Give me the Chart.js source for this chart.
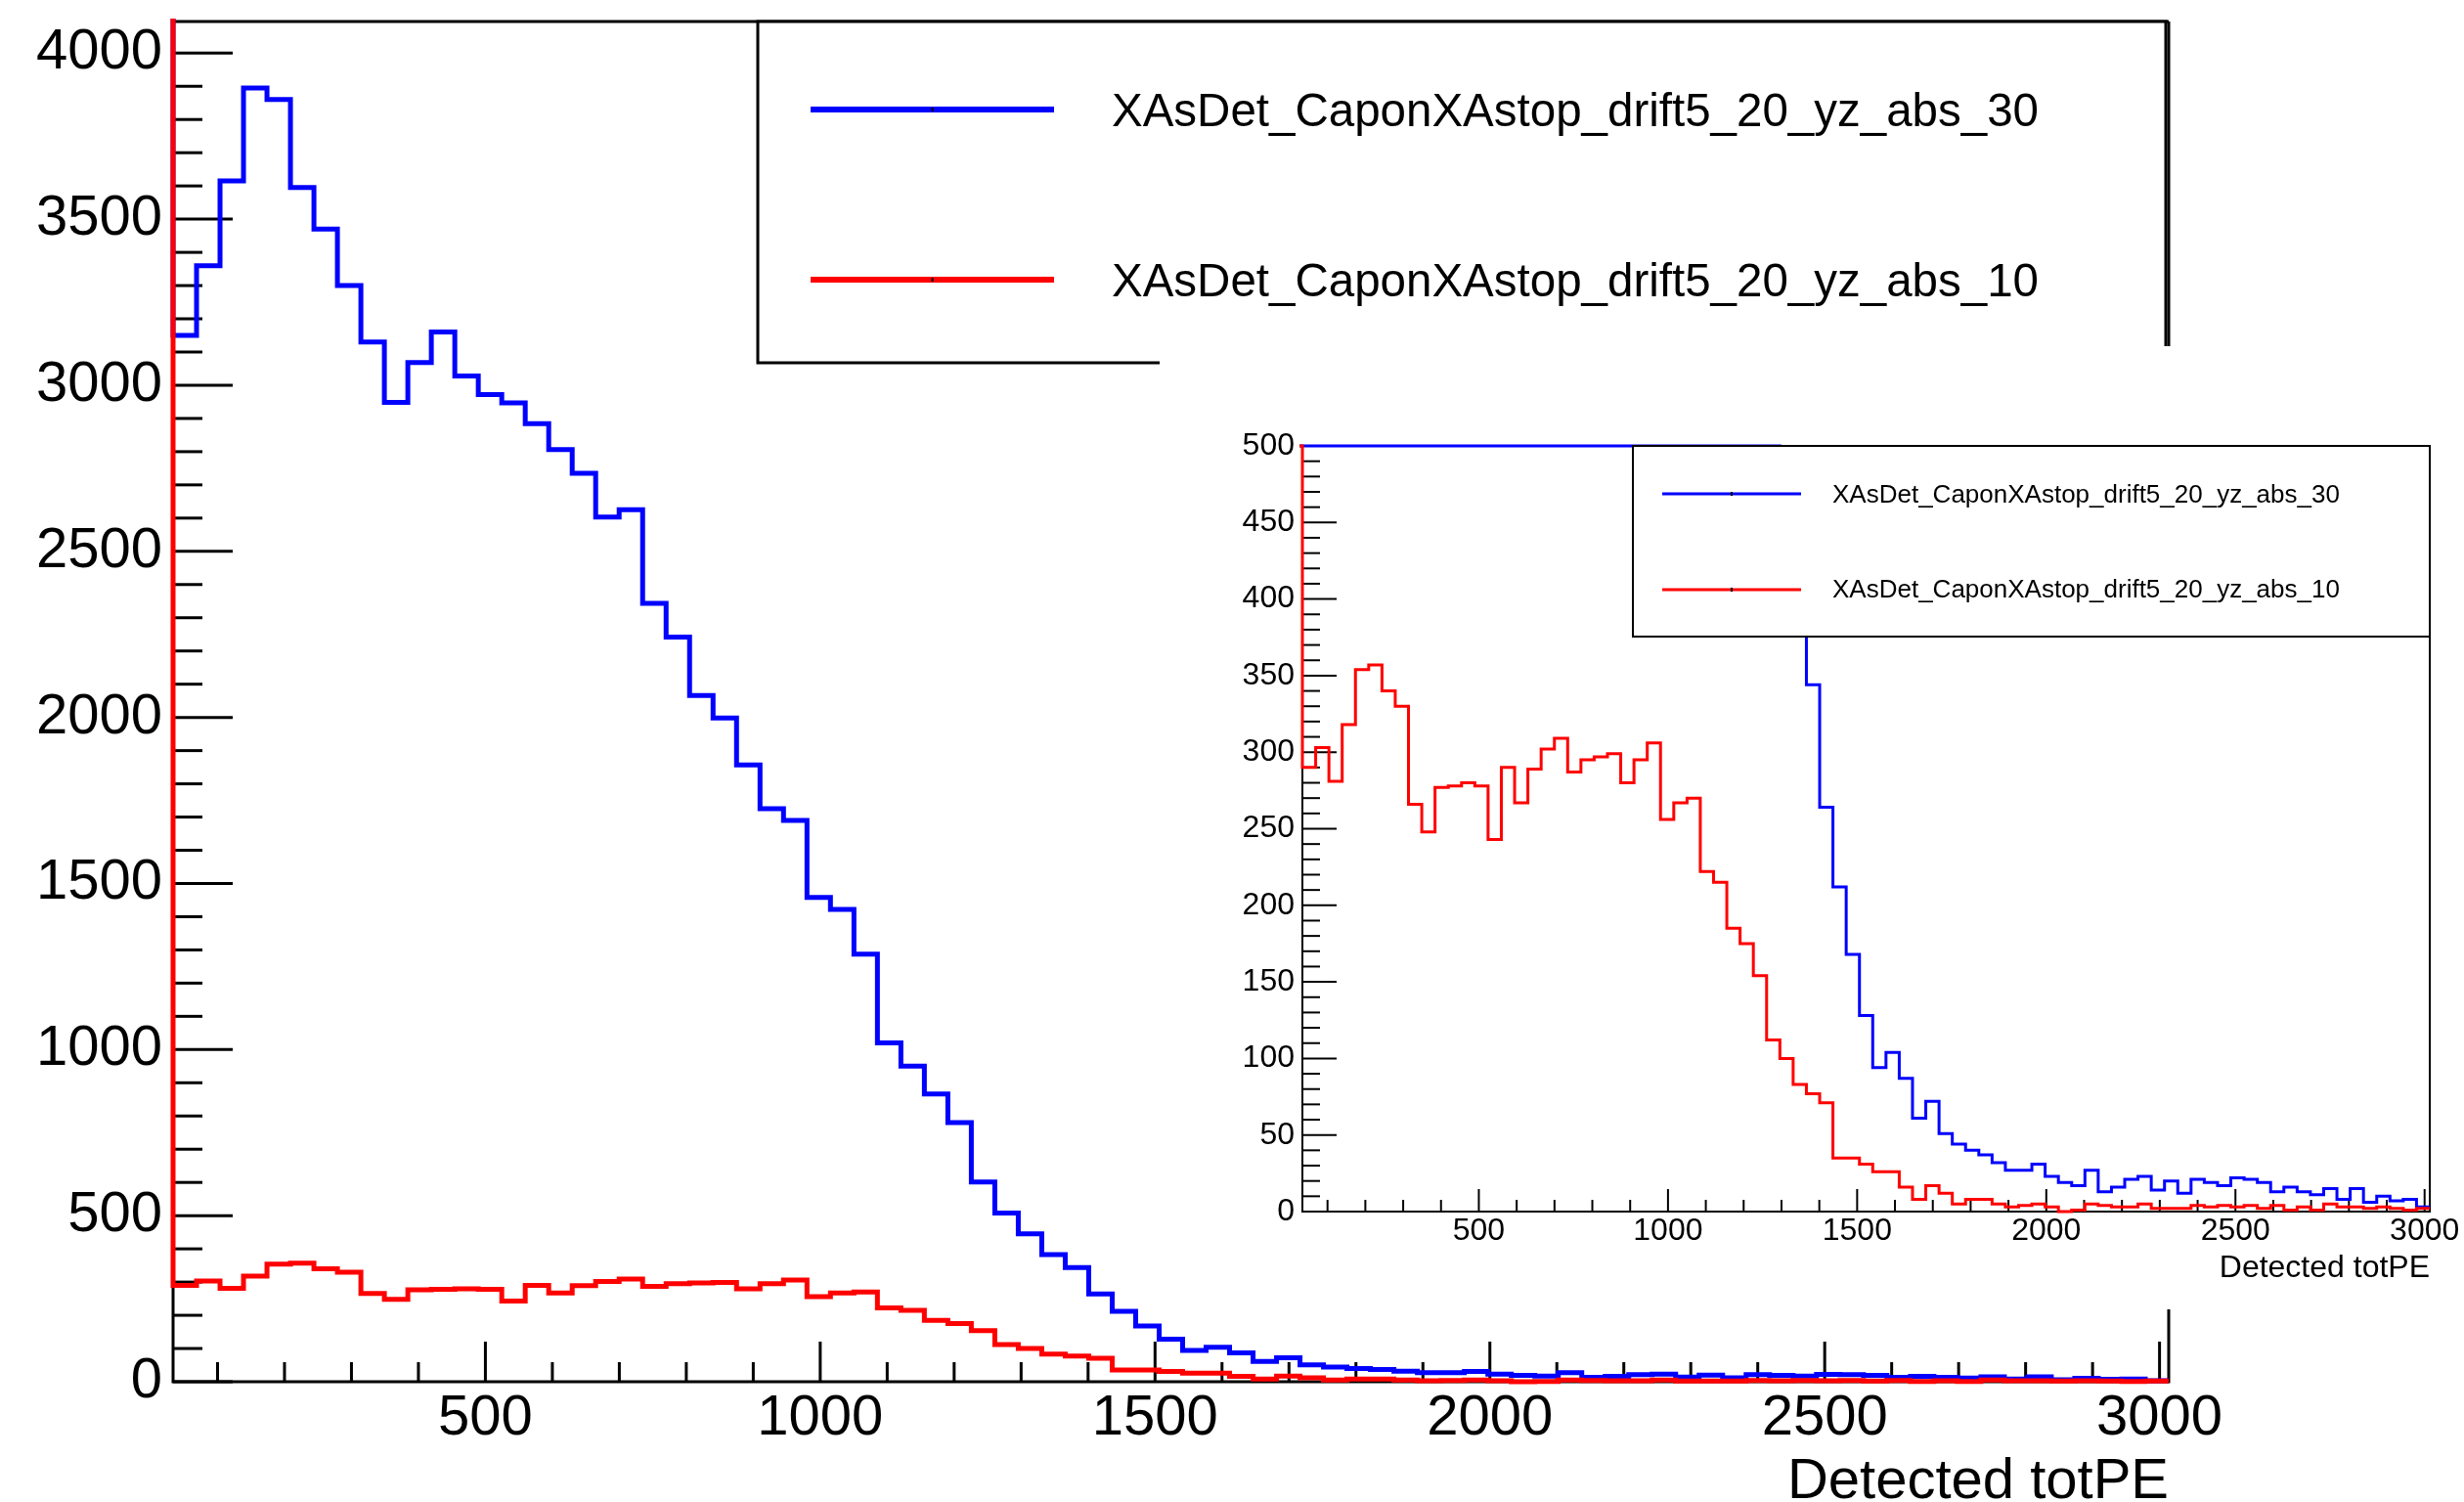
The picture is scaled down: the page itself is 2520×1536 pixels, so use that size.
<!DOCTYPE html>
<html>
<head>
<meta charset="utf-8">
<script src="https://cdn.jsdelivr.net/npm/chart.js@4.4.1/dist/chart.umd.min.js"></script>
<style>
html,body{margin:0;padding:0;background:#fff;}
#main{position:absolute;left:0;top:0;width:2520px;height:1536px;}
#inset{position:absolute;left:1186px;top:354px;width:1334px;height:985px;background:#fff;}
</style>
</head>
<body>
<div id="main"><canvas id="c1"></canvas></div>
<div id="inset"><canvas id="c2"></canvas></div>
<script>
// ---------------- data ----------------
const seriesNames = ['XAsDet_CaponXAstop_drift5_20_yz_abs_30', 'XAsDet_CaponXAstop_drift5_20_yz_abs_10'];
const axisTitle = 'Detected totPE';
const XMIN = 33.6;          // low edge of first bin
const BIN_WIDTH = 35.06;    // bin width
const blueCounts = [
  3150,3360,3615,3895,3860,3595,3470,3300,3130,2948,
  3068,3160,3028,2972,2947,2884,2806,2735,2603,2625,
  2343,2242,2066,1998,1857,1725,1690,1458,1422,1287,
  1020,950,866,780,601,508,445,383,344,264,
  212,168,128,94,104,87,61,72,51,44,
  40,37,32,27,27,31,23,19,17,27,
  13,16,21,23,14,20,12,21,19,17,
  22,21,19,13,16,13,11,15,8,15,
  6,10,7,8,3];
const redCounts = [
  290,303,281,318,354,357,340,330,266,248,
  277,278,280,278,243,290,267,289,302,309,
  287,295,297,299,280,295,306,256,267,270,
  222,215,185,175,154,112,100,83,77,71,
  35,35,31,26,26,16,8,17,12,5,
  8,8,5,3,4,5,3,0,1,5,
  4,3,3,5,2,2,2,4,3,4,
  3,4,2,4,1,3,1,5,3,3,
  2,3,2,1,2];
const blueUnderflow = 5000;   // off-scale (hidden under red)
const redUnderflow = 9000;    // off-scale, gives the red line along the y axis
const xTickLabels = [500, 1000, 1500, 2000, 2500, 3000];
const mainYTickLabels = [0, 500, 1000, 1500, 2000, 2500, 3000, 3500, 4000];
const insetYTickLabels = [0, 50, 100, 150, 200, 250, 300, 350, 400, 450, 500];
const MAIN_YMAX = 4095;
const INSET_YMAX = 500;

const NBINS = blueCounts.length;
const XMAX = XMIN + NBINS * BIN_WIDTH;
const FONT = "'Liberation Sans', Arial, Helvetica, sans-serif";

function histPoints(values, underflow, cap) {
  const c = v => (cap == null ? v : Math.min(v, cap));
  const pts = [{x: XMIN - BIN_WIDTH, y: c(underflow)}];
  values.forEach((v, i) => pts.push({x: XMIN + i * BIN_WIDTH, y: c(v)}));
  pts.push({x: XMAX, y: c(values[values.length - 1])});
  return pts;
}

function rootPlugin(cfg) {
  return {
    id: 'rootStyle',
    beforeDatasetsDraw(chart) {
      const {ctx, chartArea: a, scales: {x, y}} = chart;
      ctx.save();
      ctx.strokeStyle = '#000';
      ctx.lineCap = 'butt';
      // ticks (inward)
      ctx.lineWidth = cfg.tickWidth;
      const nY = Math.floor(y.max / cfg.yMinor + 1e-6);
      for (let k = 0; k <= nY; k++) {
        const v = k * cfg.yMinor;
        const major = (k % cfg.yMinorPerMajor) === 0;
        const py = y.getPixelForValue(v);
        ctx.beginPath();
        ctx.moveTo(a.left, py);
        ctx.lineTo(a.left + (major ? cfg.yMajorLen : cfg.yMinorLen), py);
        ctx.stroke();
      }
      const k0 = Math.ceil(x.min / cfg.xMinor);
      const k1 = Math.floor(x.max / cfg.xMinor);
      for (let k = k0; k <= k1; k++) {
        const v = k * cfg.xMinor;
        const major = (k % cfg.xMinorPerMajor) === 0;
        const px = x.getPixelForValue(v);
        ctx.beginPath();
        ctx.moveTo(px, a.bottom);
        ctx.lineTo(px, a.bottom - (major ? cfg.xMajorLen : cfg.xMinorLen));
        ctx.stroke();
      }
      // frame
      ctx.lineWidth = cfg.frameWidth;
      ctx.beginPath();
      ctx.moveTo(a.left, a.top); ctx.lineTo(a.right, a.top);
      ctx.moveTo(a.right, a.top); ctx.lineTo(a.right, a.bottom);
      ctx.moveTo(a.left - cfg.frameWidth / 2, a.bottom); ctx.lineTo(a.right + cfg.frameWidth / 2, a.bottom);
      ctx.moveTo(a.left, a.top); ctx.lineTo(a.left, a.bottom);
      ctx.stroke();
      ctx.restore();
    },
    afterDatasetsDraw(chart) {
      const {ctx, chartArea: a} = chart;
      const L = cfg.legend;
      ctx.save();
      // legend box
      ctx.fillStyle = '#fff';
      ctx.fillRect(L.x0, L.y0, L.x1 - L.x0, L.y1 - L.y0);
      ctx.strokeStyle = '#000';
      ctx.lineWidth = L.border;
      ctx.strokeRect(L.x0, L.y0, L.x1 - L.x0, L.y1 - L.y0);
      const colors = ['#0000ff', '#ff0000'];
      for (let i = 0; i < 2; i++) {
        ctx.strokeStyle = colors[i];
        ctx.lineWidth = L.lineWidth;
        ctx.beginPath();
        ctx.moveTo(L.lx0, L.ly[i]);
        ctx.lineTo(L.lx1, L.ly[i]);
        ctx.stroke();
        ctx.fillStyle = '#000';
        const mx = (L.lx0 + L.lx1) / 2;
        ctx.fillRect(mx - 1, L.ly[i] - 2, 2, 4);
        ctx.fillStyle = '#000';
        ctx.font = L.fontSize + 'px ' + FONT;
        ctx.textAlign = 'left';
        ctx.textBaseline = 'alphabetic';
        ctx.fillText(seriesNames[i], L.tx, L.tb[i]);
      }
      // x axis title
      ctx.fillStyle = '#000';
      ctx.font = cfg.titleSize + 'px ' + FONT;
      ctx.textAlign = 'right';
      ctx.textBaseline = 'alphabetic';
      ctx.fillText(axisTitle, a.right, cfg.titleBaseline);
      ctx.restore();
    }
  };
}

function makeChart(canvas, cfg) {
  const clip = {left: 3, top: 3, right: 3, bottom: 3};
  return new Chart(canvas, {
    type: 'line',
    data: {
      datasets: [
        {label: seriesNames[1], data: histPoints(redCounts, redUnderflow, cfg.cap),
         borderColor: '#ff0000', borderWidth: cfg.lineWidth, stepped: 'before', clip: clip,
         pointRadius: 0, fill: false, borderJoinStyle: 'miter', borderCapStyle: 'butt'},
        {label: seriesNames[0], data: histPoints(blueCounts, blueUnderflow, cfg.cap),
         borderColor: '#0000ff', borderWidth: cfg.lineWidth, stepped: 'before', clip: clip,
         pointRadius: 0, fill: false, borderJoinStyle: 'miter', borderCapStyle: 'butt'}
      ]
    },
    options: {
      responsive: true,
      maintainAspectRatio: false,
      animation: false,
      devicePixelRatio: 1,
      layout: {padding: cfg.padding},
      plugins: {legend: {display: false}, tooltip: {enabled: false}, title: {display: false}},
      scales: {
        x: {
          type: 'linear', min: XMIN, max: XMAX,
          border: {display: false},
          grid: {display: false, drawTicks: false},
          ticks: {font: {family: FONT, size: cfg.tickSize}, color: '#000', padding: cfg.xLabelPad,
                  maxRotation: 0, autoSkip: false, callback: v => String(v)},
          afterBuildTicks: s => { s.ticks = xTickLabels.map(v => ({value: v})); },
          afterFit: s => { s.height = cfg.xAxisHeight; s.paddingLeft = 0; s.paddingRight = 0; }
        },
        y: {
          type: 'linear', min: 0, max: cfg.ymax,
          border: {display: false},
          grid: {display: false, drawTicks: false},
          ticks: {font: {family: FONT, size: cfg.tickSize}, color: '#000', padding: cfg.yLabelPad,
                  autoSkip: false, callback: v => String(v)},
          afterBuildTicks: s => { s.ticks = cfg.yTicks.map(v => ({value: v})); },
          afterFit: s => { s.width = cfg.yAxisWidth; s.paddingTop = 0; s.paddingBottom = 0; }
        }
      }
    },
    plugins: [rootPlugin(cfg)]
  });
}

// main pad
makeChart(document.getElementById('c1'), {
  cap: null, ymax: MAIN_YMAX, yTicks: mainYTickLabels,
  lineWidth: 5, tickSize: 58, xLabelPad: 3, yLabelPad: 11,
  padding: {top: 22, right: 302, left: 0, bottom: 0},
  yAxisWidth: 177, xAxisHeight: 123,
  tickWidth: 3, frameWidth: 3,
  yMinor: 100, yMinorPerMajor: 5, yMajorLen: 61, yMinorLen: 30,
  xMinor: 100, xMinorPerMajor: 5, xMajorLen: 41, xMinorLen: 20,
  titleSize: 58, titleBaseline: 1532,
  legend: {x0: 775, y0: 22, x1: 2215, y1: 371, border: 3, lineWidth: 6,
           lx0: 829, lx1: 1078, ly: [112, 286], tx: 1137, tb: [129, 303], fontSize: 47.5}
});

// inset pad (coordinates local to the inset canvas)
makeChart(document.getElementById('c2'), {
  cap: INSET_YMAX, ymax: INSET_YMAX, yTicks: insetYTickLabels,
  lineWidth: 3, tickSize: 32, xLabelPad: 1, yLabelPad: 8,
  padding: {top: 102, right: 35, left: 0, bottom: 0},
  yAxisWidth: 146, xAxisHeight: 100,
  tickWidth: 2, frameWidth: 2,
  yMinor: 10, yMinorPerMajor: 5, yMajorLen: 35, yMinorLen: 18,
  xMinor: 100, xMinorPerMajor: 5, xMajorLen: 23, xMinorLen: 12,
  titleSize: 32, titleBaseline: 952,
  legend: {x0: 484, y0: 102, x1: 1299, y1: 297, border: 2, lineWidth: 3,
           lx0: 514, lx1: 656, ly: [151, 249], tx: 688, tb: [160, 257], fontSize: 26}
});
</script>
</body>
</html>
